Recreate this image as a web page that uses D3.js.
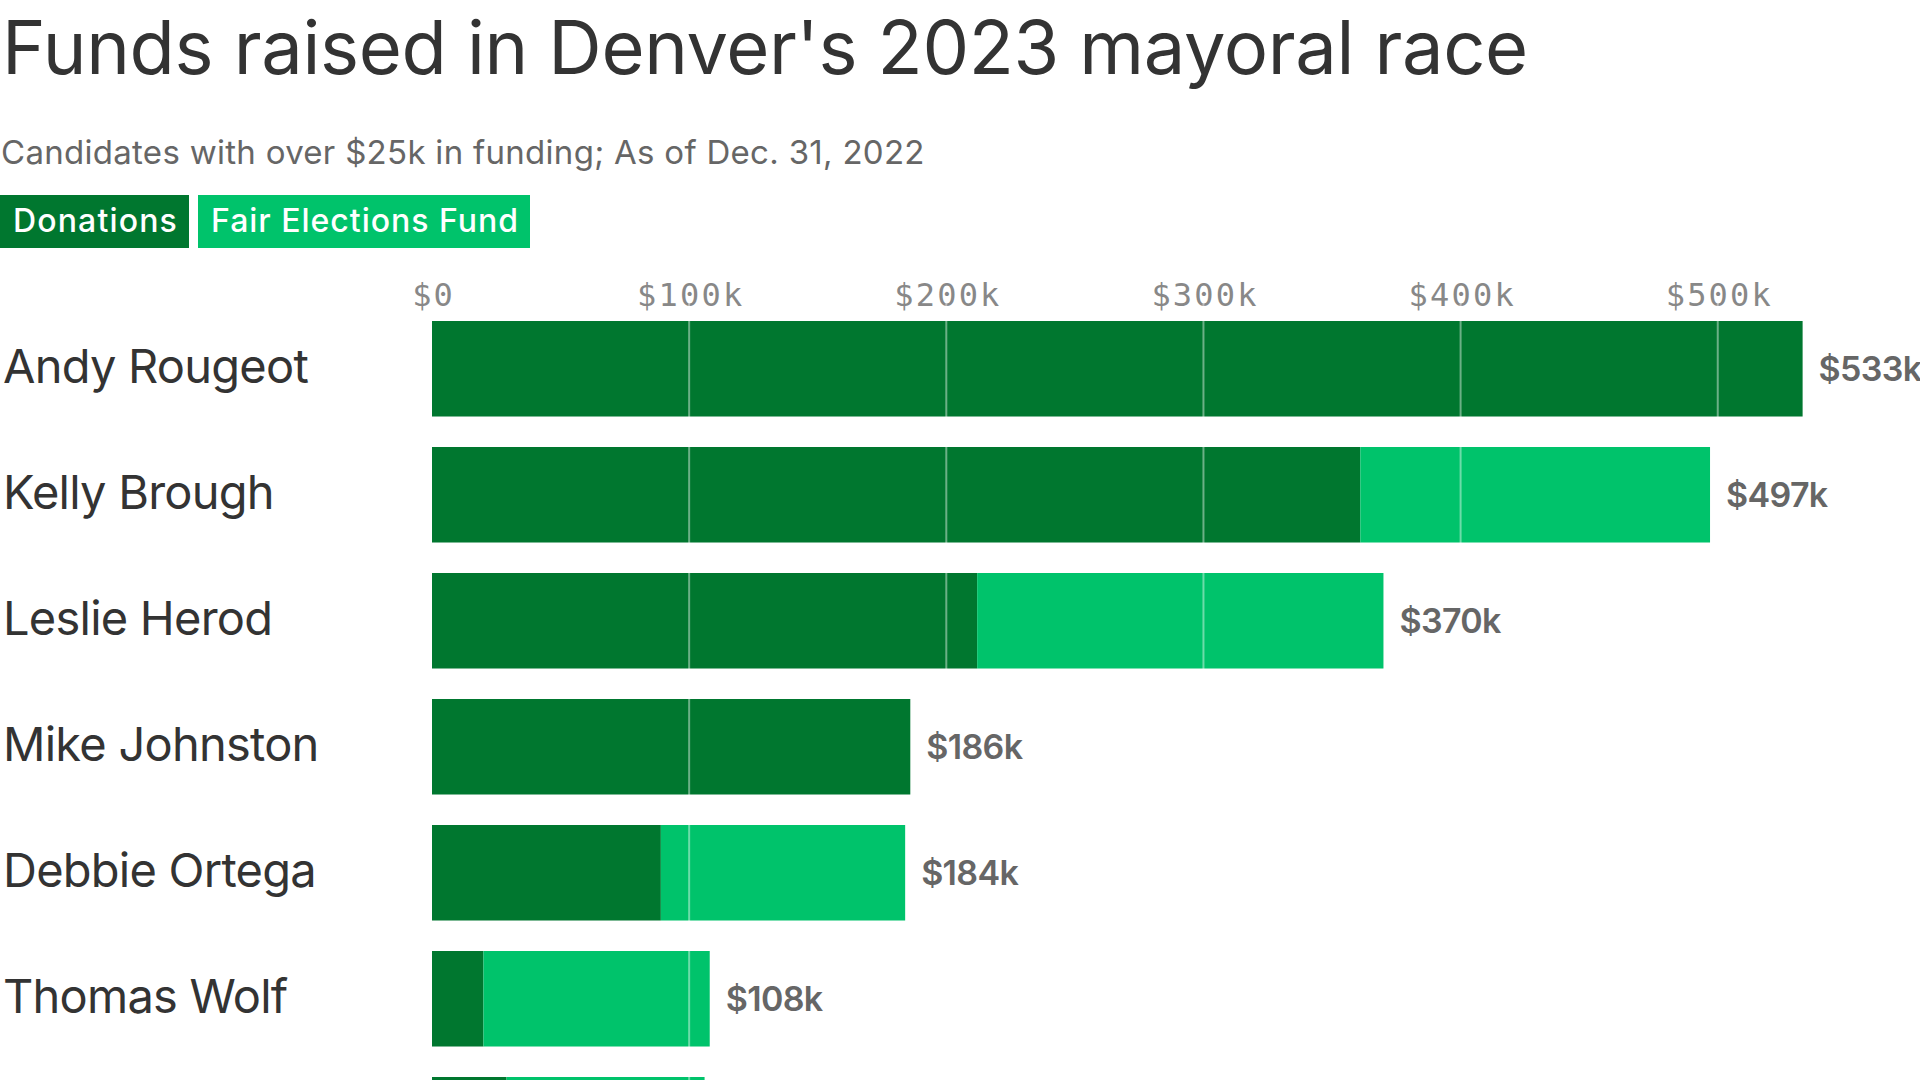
<!DOCTYPE html>
<html>
<head>
<meta charset="utf-8">
<script src="https://cdn.jsdelivr.net/npm/d3@7"></script>
<style>
  html, body { margin: 0; padding: 0; background: #fff; overflow: hidden; }
  svg { display: block; }
</style>
</head>
<body>
<svg id="chart" width="1920" height="1080"></svg>
<script>
// ---- data ----
const candidates = ["Andy Rougeot", "Kelly Brough", "Leslie Herod", "Mike Johnston", "Debbie Ortega", "Thomas Wolf", "Lisa Calderón"];
const donations  = [533, 361, 212, 186, 89, 20, 29];   // $k
const fairFund   = [0, 136, 158, 0, 95, 88, 77];       // $k
const totalLabels = ["$533k", "$497k", "$370k", "$186k", "$184k", "$108k", "$106k"];
const tickValues = [0, 100, 200, 300, 400, 500];
const tickLabels = ["$0", "$100k", "$200k", "$300k", "$400k", "$500k"];
const seriesKeys = ["donations", "fair"];
const seriesNames = ["Donations", "Fair Elections Fund"];
const colors = ["#00772F", "#00C36B"];

const title = "Funds raised in Denver's 2023 mayoral race";
const subtitle = "Candidates with over $25k in funding; As of Dec. 31, 2022";

const rows = candidates.map((c, i) => ({ name: c, donations: donations[i], fair: fairFund[i], label: totalLabels[i] }));

const W = 1920, H = 1080;
const svg = d3.select("#chart");
const sans = "Inter, 'Noto Sans', Roboto, sans-serif";
const mono = "'DejaVu Sans Mono', 'Liberation Mono', monospace";

function fitWidth(sel, target) {
  const node = sel.node();
  const w = node.getComputedTextLength();
  const n = node.textContent.length;
  const ls = (target - w) / n;
  sel.attr("letter-spacing", ls.toFixed(2));
  return ls;
}

// title & subtitle
const t = svg.append("text").attr("x", 2).attr("y", 74)
  .attr("font-family", sans).attr("font-size", 74).attr("fill", "#333")
  .text(title);
fitWidth(t, 1526);

const st = svg.append("text").attr("x", 1).attr("y", 164)
  .attr("font-family", sans).attr("font-size", 33).attr("fill", "#666")
  .text(subtitle);
fitWidth(st, 924);

// legend
const legendBoxes = [{x: 0, w: 189}, {x: 198, w: 332}];
seriesNames.forEach((nm, i) => {
  svg.append("rect").attr("x", legendBoxes[i].x).attr("y", 195)
    .attr("width", legendBoxes[i].w).attr("height", 53).attr("fill", colors[i]);
  const lt = svg.append("text").attr("x", legendBoxes[i].x + 13).attr("y", 232)
    .attr("font-family", sans).attr("font-size", 32).attr("font-weight", 500)
    .attr("fill", "#fff").text(nm);
  fitWidth(lt, legendBoxes[i].w - 24);
});

// scales
const x = d3.scaleLinear().domain([0, 100]).range([432, 689.15]);
const step = 126, pin = 0.242;
const y = d3.scaleBand().domain(candidates)
  .range([321, 321 + candidates.length * step - pin * step])
  .paddingInner(pin).paddingOuter(0);

// axis (top)
const axis = d3.axisTop(x).tickValues(tickValues)
  .tickFormat((d, i) => tickLabels[i]).tickSize(0).tickPadding(0);
const ag = svg.append("g").attr("transform", "translate(0,306)").call(axis);
ag.select(".domain").remove();
ag.selectAll("text").attr("font-family", mono).attr("font-size", 32)
  .attr("fill", "#888").attr("letter-spacing", 2.2).attr("dy", 0)
  .attr("dx", 1.1);

// stacked bars
const stack = d3.stack().keys(seriesKeys)(rows);
svg.append("g").selectAll("g").data(stack).join("g")
  .attr("fill", (d, i) => colors[i])
  .selectAll("rect").data(d => d).join("rect")
  .attr("x", d => x(d[0]))
  .attr("y", d => y(d.data.name))
  .attr("width", d => Math.max(0, x(d[1]) - x(d[0])))
  .attr("height", d => Math.min(y.bandwidth(), H - y(d.data.name)));

// gridlines over bars
svg.append("g").selectAll("line").data(tickValues.filter(v => v > 0)).join("line")
  .attr("x1", d => x(d)).attr("x2", d => x(d))
  .attr("y1", 300).attr("y2", H)
  .attr("stroke", "#fff").attr("stroke-opacity", 0.42).attr("stroke-width", 2);

// only label rows whose text lies inside the frame (the last row is cut off, as in the original)
const visibleRows = rows.filter(d => y(d.name) + y.bandwidth() / 2 + 20 < H);

// name labels
const nameSel = svg.append("g").selectAll("text").data(visibleRows).join("text")
  .attr("x", 3)
  .attr("y", d => y(d.name) + y.bandwidth() / 2 + 14)
  .attr("font-family", sans).attr("font-size", 47).attr("fill", "#333")
  .text(d => d.name);
const ls = fitWidth(d3.select(nameSel.nodes()[0]), 305);
nameSel.attr("letter-spacing", ls.toFixed(2));

// value labels
const valSel = svg.append("g").selectAll("text").data(visibleRows).join("text")
  .attr("x", d => x(d.donations + d.fair) + 16)
  .attr("y", d => y(d.name) + y.bandwidth() / 2 + 12)
  .attr("font-family", sans).attr("font-size", 34).attr("font-weight", 600)
  .attr("fill", "#666")
  .text(d => d.label);
const vls = fitWidth(d3.select(valSel.nodes()[4]), 97);
valSel.attr("letter-spacing", vls.toFixed(2));
</script>
</body>
</html>
